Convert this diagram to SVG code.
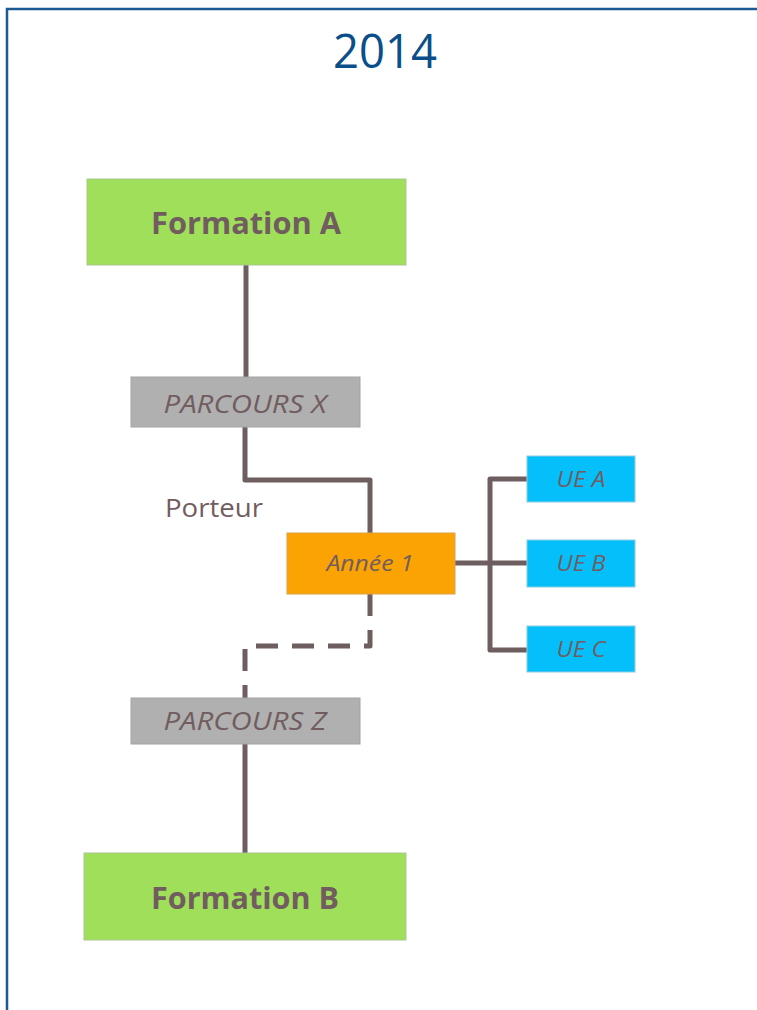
<svg xmlns="http://www.w3.org/2000/svg" width="757" height="1010" viewBox="0 0 757 1010">
<style>
.t{font-family:"Open Sans","Noto Sans","Liberation Sans",sans-serif;fill:#715D60;text-anchor:middle}
.big{font-size:30px;font-weight:bold}
.it{font-style:italic;font-size:25px}
.sm{font-style:italic;font-size:22px}
.green{fill:#9FDF59;stroke:#A9C68F;stroke-width:1}
.gray{fill:#B0B0B0;stroke:#A3A3A3;stroke-width:1}
.orange{fill:#FAA303;stroke:#D9A24A;stroke-width:1}
.blue{fill:#05BFFB;stroke:#8FCBE0;stroke-width:1}
.ln{fill:none;stroke:#6F5E5F;stroke-width:5;stroke-linejoin:round}
</style>
<rect x="0" y="0" width="757" height="1010" fill="#FFFFFF"/>
<path d="M7,1012 V9 H760" fill="none" stroke="#1B5A93" stroke-width="2.5"/>
<text x="385" y="68" font-family="'Open Sans','Noto Sans',sans-serif" font-size="47" fill="#0B4F8A" text-anchor="middle" textLength="104" lengthAdjust="spacingAndGlyphs">2014</text>
<g id="connectors">
<path class="ln" d="M246,265 V377"/>
<path class="ln" d="M245,427 V480 H370 V533"/>
<path class="ln" d="M370,594 V646 H245 V698" stroke-dasharray="22 14"/>
<path class="ln" d="M245,744 V853"/>
<path class="ln" d="M455,563 H527"/>
<path class="ln" d="M527,479 H490 V650 H527"/>
</g>
<g id="formationA">
<rect class="green" x="87" y="179" width="319" height="86"/>
<text class="t big" x="246" y="234" textLength="190" lengthAdjust="spacingAndGlyphs">Formation A</text>
</g>
<g id="parcoursX">
<rect class="gray" x="131" y="377" width="229" height="50"/>
<text class="t it" x="245" y="413" textLength="163" lengthAdjust="spacingAndGlyphs">PARCOURS X</text>
</g>
<g id="porteur">
<text class="t" x="165" y="517" font-size="26" style="text-anchor:start" textLength="98" lengthAdjust="spacingAndGlyphs">Porteur</text>
</g>
<g id="annee1">
<rect class="orange" x="287" y="533" width="168" height="61"/>
<text class="t sm" x="370" y="571" textLength="87" lengthAdjust="spacingAndGlyphs">Année 1</text>
</g>
<g id="ueA">
<rect class="blue" x="527" y="456" width="108" height="46"/>
<text class="t sm" x="581" y="487" textLength="49" lengthAdjust="spacingAndGlyphs">UE A</text>
</g>
<g id="ueB">
<rect class="blue" x="527" y="540" width="108" height="47"/>
<text class="t sm" x="581" y="571" textLength="49" lengthAdjust="spacingAndGlyphs">UE B</text>
</g>
<g id="ueC">
<rect class="blue" x="527" y="626" width="108" height="46"/>
<text class="t sm" x="581" y="657" textLength="49" lengthAdjust="spacingAndGlyphs">UE C</text>
</g>
<g id="parcoursZ">
<rect class="gray" x="131" y="698" width="229" height="46"/>
<text class="t it" x="245" y="730" textLength="163" lengthAdjust="spacingAndGlyphs">PARCOURS Z</text>
</g>
<g id="formationB">
<rect class="green" x="84" y="853" width="322" height="87"/>
<text class="t big" x="245" y="909" textLength="188" lengthAdjust="spacingAndGlyphs">Formation B</text>
</g>
</svg>
